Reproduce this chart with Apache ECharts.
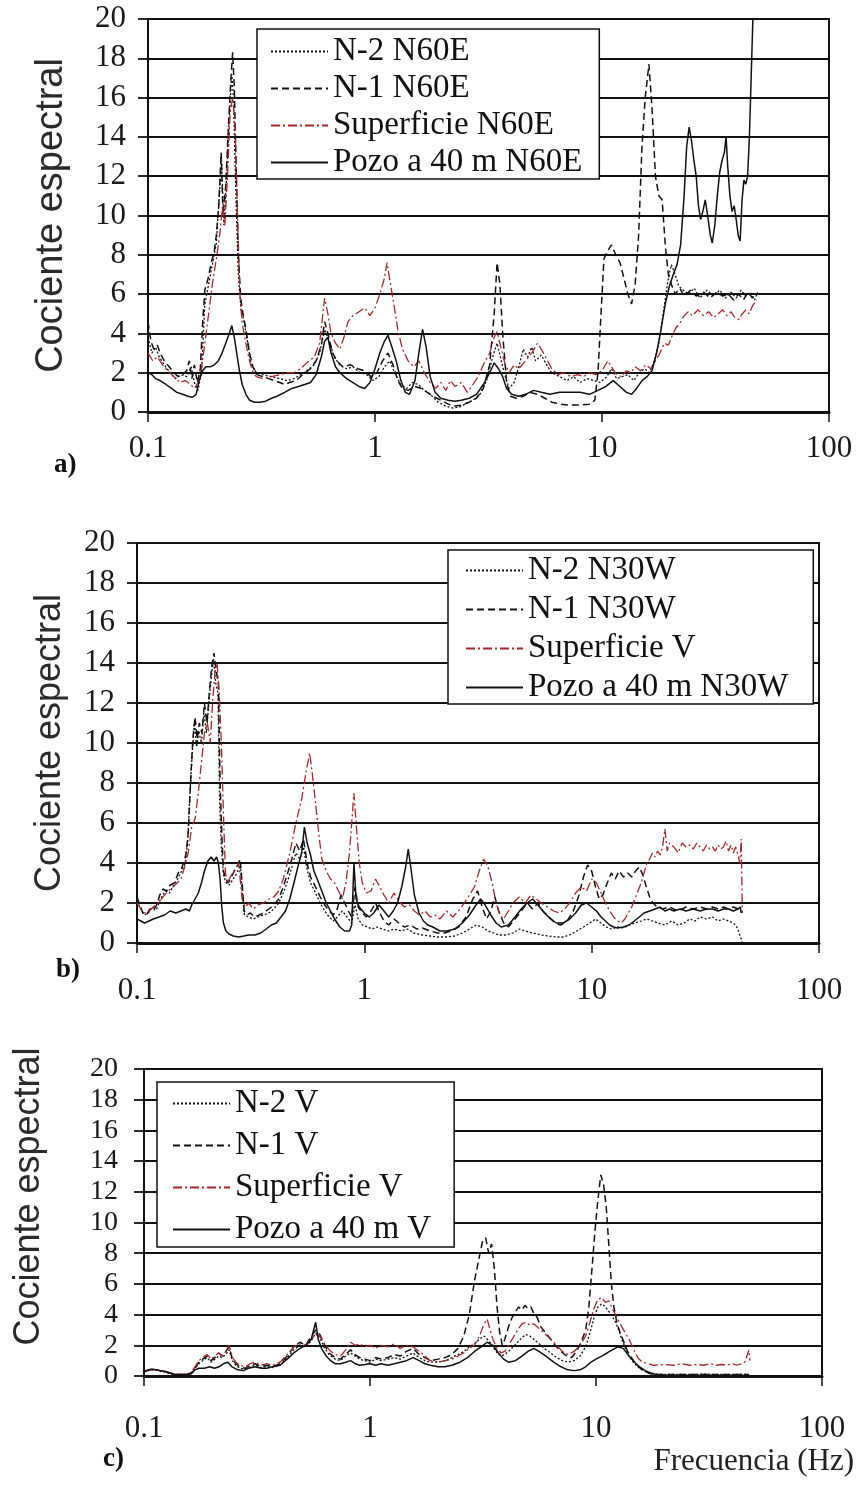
<!DOCTYPE html>
<html>
<head>
<meta charset="utf-8">
<title>Cociente espectral</title>
<script src="https://cdn.jsdelivr.net/npm/echarts@6/dist/echarts.min.js"></script>
<style>
html, body { margin: 0; padding: 0; background: #fff; }
#chart { width: 857px; height: 1487px; }
</style>
</head>
<body>
<div id="chart"></div>
<script>
// ---- data: [frecuencia (Hz), cociente espectral] ----

// a) N60E
var n2N60E = [[0.1,3.8],[0.104,3.0],[0.108,3.3],[0.112,2.8],[0.118,2.4],[0.125,2.0],[0.132,1.7],[0.14,1.9],[0.148,1.8],[0.155,2.3],[0.16,1.5],[0.166,1.1],[0.172,2.0],[0.178,5.5],[0.185,6.5],[0.192,7.5],[0.2,8.6],[0.206,11.0],[0.211,12.8],[0.216,9.5],[0.222,12.0],[0.228,15.0],[0.234,17.2],[0.238,16.0],[0.244,11.0],[0.25,7.0],[0.257,5.2],[0.265,4.6],[0.275,3.5],[0.285,2.4],[0.3,2.0],[0.32,1.9],[0.35,1.8],[0.38,1.7],[0.41,1.6],[0.44,1.7],[0.47,1.9],[0.5,2.1],[0.54,2.4],[0.57,3.0],[0.6,4.2],[0.63,3.6],[0.66,2.8],[0.7,2.4],[0.75,2.2],[0.8,2.3],[0.86,2.0],[0.92,1.9],[0.98,1.6],[1.04,1.8],[1.1,2.3],[1.16,2.6],[1.22,2.0],[1.3,1.4],[1.38,1.2],[1.46,1.5],[1.55,1.4],[1.65,1.1],[1.75,0.9],[1.9,0.5],[2.05,0.3],[2.2,0.2],[2.35,0.25],[2.5,0.4],[2.7,0.6],[2.9,0.9],[3.1,1.6],[3.3,2.8],[3.45,3.5],[3.6,2.6],[3.75,1.8],[3.9,1.2],[4.1,1.5],[4.3,2.3],[4.5,3.2],[4.7,2.8],[4.9,3.3],[5.1,2.6],[5.4,2.9],[5.7,2.4],[6.0,2.0],[6.5,1.8],[7.0,1.6],[7.5,1.8],[8.0,1.5],[8.6,1.7],[9.2,1.6],[9.8,1.5],[10.5,1.8],[11.0,2.2],[11.6,1.7],[12.3,1.8],[13.0,1.9],[13.8,1.6],[14.6,2.0],[15.4,2.2],[16.2,2.0],[17.0,2.6],[17.8,3.5],[18.6,5.0],[19.4,6.5],[20.2,7.5],[21.0,7.0],[21.8,6.4],[22.8,6.2],[24,6.0],[25.5,6.3],[27,5.8],[29,6.2],[31,5.9],[33,6.2],[35,5.8],[37,6.1],[39,5.8],[41,6.2],[43,5.9],[45,6.1],[47,5.7],[48.5,6.1]];
var n1N60E = [[0.1,4.6],[0.103,3.6],[0.106,3.2],[0.11,3.4],[0.113,3.0],[0.118,2.6],[0.124,2.3],[0.13,2.0],[0.136,1.8],[0.142,1.9],[0.148,2.1],[0.152,2.6],[0.156,1.7],[0.16,2.4],[0.165,1.5],[0.17,2.2],[0.174,4.5],[0.178,6.2],[0.184,6.8],[0.19,7.6],[0.196,8.2],[0.2,9.0],[0.205,10.5],[0.21,13.2],[0.214,10.0],[0.22,11.5],[0.226,14.5],[0.232,17.0],[0.236,18.3],[0.24,16.5],[0.245,12.0],[0.25,8.0],[0.256,5.8],[0.262,5.0],[0.27,4.2],[0.28,3.0],[0.29,2.3],[0.302,1.9],[0.32,1.8],[0.34,1.7],[0.36,1.6],[0.38,1.5],[0.4,1.4],[0.42,1.5],[0.45,1.6],[0.48,1.9],[0.52,2.2],[0.55,2.6],[0.58,3.4],[0.6,4.6],[0.62,4.0],[0.65,3.0],[0.68,2.6],[0.72,2.3],[0.78,2.4],[0.84,2.2],[0.9,2.1],[0.96,1.8],[1.02,2.0],[1.08,2.6],[1.14,3.0],[1.2,2.4],[1.26,1.6],[1.32,1.2],[1.4,1.1],[1.5,1.3],[1.6,1.2],[1.7,1.0],[1.8,0.8],[1.95,0.6],[2.1,0.4],[2.25,0.3],[2.4,0.35],[2.6,0.5],[2.8,0.7],[3.0,1.2],[3.2,2.4],[3.35,5.0],[3.45,7.6],[3.55,6.5],[3.65,4.0],[3.8,1.5],[3.95,0.8],[4.2,0.7],[4.5,0.8],[4.8,1.0],[5.2,0.9],[5.6,0.7],[6.0,0.5],[6.6,0.4],[7.2,0.35],[8.0,0.35],[8.8,0.4],[9.3,0.6],[9.6,2.0],[9.9,5.0],[10.2,7.8],[10.6,8.2],[11.0,8.5],[11.5,8.0],[12.0,7.6],[12.5,6.8],[13.0,6.0],[13.5,5.5],[14.0,6.5],[14.5,9.0],[15.0,13.5],[15.5,16.0],[16.1,17.7],[16.6,15.5],[17.2,12.0],[17.8,11.0],[18.4,10.8],[19.0,8.5],[19.6,7.0],[20.2,6.5],[21.0,6.0],[22.0,6.3],[23.0,5.9],[24.5,6.2],[26,5.9],[28,6.1],[30,5.8],[32,6.1],[34,5.9],[36,6.0],[38,5.7],[40,6.0],[42,5.7],[44,6.1],[46,5.8],[48,6.0]];
var supN60E = [[0.1,3.0],[0.105,2.6],[0.11,2.8],[0.116,2.4],[0.122,2.1],[0.13,1.8],[0.138,1.5],[0.146,1.6],[0.154,1.4],[0.16,1.2],[0.166,1.5],[0.172,2.2],[0.178,3.5],[0.185,5.0],[0.192,6.5],[0.2,7.8],[0.207,9.0],[0.213,10.5],[0.218,9.5],[0.224,12.0],[0.23,15.2],[0.236,16.0],[0.242,14.5],[0.248,10.0],[0.254,6.0],[0.26,4.5],[0.27,3.5],[0.28,2.6],[0.29,2.0],[0.3,1.8],[0.32,1.7],[0.35,1.8],[0.38,1.9],[0.41,2.0],[0.44,2.0],[0.47,2.2],[0.5,2.5],[0.54,2.8],[0.57,3.5],[0.6,5.8],[0.62,5.0],[0.64,4.0],[0.67,3.5],[0.7,3.2],[0.73,3.8],[0.76,4.6],[0.8,4.9],[0.85,5.1],[0.9,5.3],[0.95,4.9],[1.0,5.3],[1.05,6.0],[1.1,6.8],[1.13,7.6],[1.17,6.5],[1.21,5.5],[1.26,4.2],[1.32,3.2],[1.4,2.6],[1.48,2.3],[1.56,2.6],[1.65,2.0],[1.75,1.5],[1.85,1.2],[1.95,1.5],[2.05,1.1],[2.15,1.6],[2.25,1.3],[2.4,1.5],[2.55,1.0],[2.7,1.4],[2.85,1.8],[3.0,2.4],[3.2,3.0],[3.35,3.8],[3.45,4.1],[3.6,3.2],[3.75,2.4],[3.9,2.0],[4.1,2.4],[4.3,2.2],[4.6,2.6],[4.9,3.0],[5.2,3.5],[5.4,3.2],[5.7,2.7],[6.0,2.2],[6.4,1.9],[6.8,2.0],[7.3,1.8],[7.8,1.9],[8.3,1.8],[8.8,2.0],[9.4,1.9],[10.0,2.1],[10.6,2.6],[11.0,2.3],[11.6,1.9],[12.2,1.8],[12.8,2.1],[13.4,2.0],[14.0,2.3],[14.8,2.1],[15.6,2.4],[16.4,2.2],[17.2,2.6],[18.0,3.0],[18.8,3.5],[19.6,3.4],[20.4,3.9],[21.2,4.3],[22.0,4.5],[23.0,4.9],[24.0,5.1],[25.0,4.9],[26.5,5.2],[28,4.9],[29.5,5.1],[31,4.8],[32.5,5.0],[34,5.2],[35.5,4.9],[37,5.1],[38.5,4.8],[40,4.7],[41.5,5.0],[43,5.2],[44.5,5.0],[46,5.4],[48,5.7]];
var pozoN60E = [[0.1,2.0],[0.104,1.9],[0.108,1.7],[0.113,1.6],[0.12,1.4],[0.127,1.2],[0.134,1.0],[0.142,0.9],[0.15,0.8],[0.157,0.75],[0.163,0.9],[0.168,1.6],[0.174,2.1],[0.18,2.3],[0.188,2.3],[0.196,2.4],[0.204,2.6],[0.212,3.0],[0.22,3.5],[0.228,4.0],[0.234,4.4],[0.24,3.8],[0.246,3.0],[0.252,2.2],[0.26,1.4],[0.27,0.9],[0.28,0.6],[0.295,0.5],[0.31,0.5],[0.33,0.55],[0.35,0.7],[0.37,0.8],[0.4,1.0],[0.43,1.2],[0.46,1.3],[0.49,1.4],[0.52,1.5],[0.55,1.9],[0.58,2.8],[0.6,3.6],[0.62,3.8],[0.64,3.0],[0.67,2.3],[0.7,2.0],[0.75,1.7],[0.8,1.5],[0.85,1.3],[0.9,1.2],[0.95,1.5],[1.0,2.2],[1.05,3.0],[1.1,3.6],[1.14,3.9],[1.18,3.4],[1.24,2.6],[1.3,1.6],[1.36,1.0],[1.42,0.9],[1.5,1.6],[1.56,3.0],[1.62,4.2],[1.68,3.3],[1.75,1.8],[1.84,1.0],[1.95,0.7],[2.1,0.6],[2.25,0.55],[2.4,0.6],[2.6,0.7],[2.8,0.9],[3.0,1.4],[3.2,2.0],[3.35,2.5],[3.5,2.2],[3.65,1.8],[3.8,1.2],[4.0,0.9],[4.3,0.8],[4.6,0.9],[5.0,1.1],[5.4,1.0],[5.9,0.9],[6.5,1.0],[7.2,1.0],[8.0,1.0],[8.8,0.9],[9.6,1.1],[10.4,1.3],[11.2,1.6],[12.0,1.3],[12.8,1.0],[13.5,0.9],[14.2,1.2],[15.0,1.6],[15.8,1.8],[16.6,2.1],[17.4,3.0],[18.2,4.2],[19.0,5.5],[19.8,6.4],[20.6,7.0],[21.4,7.5],[22.2,8.5],[23.0,11.0],[23.6,13.5],[24.2,14.5],[24.8,13.8],[25.4,12.8],[26.0,12.0],[26.6,10.5],[27.2,9.8],[27.8,10.2],[28.5,10.8],[29.2,10.0],[30.0,9.0],[30.6,8.6],[31.4,9.5],[32.2,11.0],[33.0,12.2],[33.8,12.8],[34.6,13.2],[35.2,14.0],[35.8,12.5],[36.6,11.0],[37.4,10.2],[38.2,10.5],[39.0,9.8],[39.8,9.0],[40.6,8.7],[41.4,10.8],[42.2,11.8],[43.0,11.6],[43.8,12.0],[44.6,14.0],[45.4,17.0],[46.2,20.0],[46.5,21.0]];

// b) N30W
var n2N30W = [[0.1,2.1],[0.104,1.7],[0.108,1.4],[0.112,1.5],[0.117,1.8],[0.122,1.7],[0.127,2.2],[0.133,2.6],[0.139,2.5],[0.145,2.9],[0.151,3.2],[0.157,3.6],[0.163,4.0],[0.167,5.0],[0.171,7.5],[0.175,9.5],[0.179,11.0],[0.183,9.8],[0.187,10.6],[0.192,10.0],[0.197,11.5],[0.202,10.5],[0.207,12.0],[0.212,13.2],[0.217,14.2],[0.222,13.0],[0.227,12.5],[0.231,7.0],[0.235,4.8],[0.24,3.4],[0.247,3.0],[0.255,2.9],[0.265,3.2],[0.275,3.5],[0.285,3.9],[0.29,2.6],[0.297,1.4],[0.31,1.3],[0.325,1.2],[0.34,1.3],[0.36,1.4],[0.38,1.5],[0.4,1.7],[0.42,2.0],[0.44,2.5],[0.46,3.1],[0.48,3.8],[0.5,4.5],[0.52,4.2],[0.54,4.8],[0.56,3.7],[0.58,3.0],[0.61,2.5],[0.64,2.0],[0.67,1.6],[0.7,1.3],[0.73,1.1],[0.76,1.3],[0.8,1.6],[0.84,1.3],[0.88,1.0],[0.91,1.9],[0.94,1.2],[0.98,0.9],[1.03,0.8],[1.08,0.7],[1.14,0.8],[1.2,0.7],[1.27,0.6],[1.35,0.7],[1.45,0.6],[1.55,0.7],[1.65,0.5],[1.8,0.4],[1.95,0.35],[2.1,0.3],[2.3,0.3],[2.5,0.35],[2.7,0.5],[2.9,0.7],[3.1,0.9],[3.3,0.8],[3.5,0.6],[3.7,0.5],[3.9,0.4],[4.2,0.4],[4.5,0.5],[4.8,0.7],[5.1,0.6],[5.5,0.5],[6.0,0.4],[6.5,0.35],[7.0,0.3],[7.5,0.3],[8.0,0.4],[8.6,0.6],[9.2,0.8],[9.8,1.0],[10.4,1.2],[11.0,1.0],[11.6,0.8],[12.2,0.7],[13.0,0.8],[13.8,0.75],[14.6,0.9],[15.5,1.0],[16.5,1.1],[17.5,1.2],[18.5,1.1],[19.5,1.0],[21,0.9],[22.5,1.1],[24,0.9],[25.5,1.0],[27,1.2],[28.5,1.1],[30,1.3],[32,1.2],[34,1.3],[36,1.1],[38,1.2],[40,1.1],[42,1.0],[43.5,0.8],[44.5,0.5],[45.5,0.2],[46,0.0]];
var n1N30W = [[0.1,2.3],[0.103,1.9],[0.106,1.5],[0.11,1.4],[0.114,1.7],[0.118,1.6],[0.122,1.9],[0.126,2.4],[0.13,2.7],[0.135,2.6],[0.14,2.9],[0.146,3.0],[0.152,3.5],[0.158,3.8],[0.164,4.4],[0.168,5.5],[0.172,8.0],[0.176,10.2],[0.18,11.3],[0.184,10.2],[0.188,11.0],[0.193,10.5],[0.198,12.0],[0.203,11.0],[0.208,12.5],[0.213,13.8],[0.218,14.5],[0.223,13.6],[0.228,13.0],[0.232,8.0],[0.236,5.5],[0.24,3.6],[0.246,3.2],[0.252,3.0],[0.26,3.3],[0.268,3.6],[0.276,3.8],[0.284,4.2],[0.29,3.0],[0.296,1.6],[0.305,1.4],[0.315,1.5],[0.33,1.3],[0.345,1.4],[0.36,1.5],[0.38,1.7],[0.4,1.9],[0.42,2.2],[0.44,2.8],[0.46,3.5],[0.48,4.2],[0.5,5.0],[0.52,4.6],[0.54,5.2],[0.56,4.0],[0.58,3.3],[0.61,2.8],[0.64,2.3],[0.67,1.9],[0.7,1.6],[0.73,1.4],[0.76,1.7],[0.79,2.4],[0.82,2.0],[0.85,1.6],[0.88,1.3],[0.91,2.8],[0.94,1.8],[0.98,1.5],[1.02,1.3],[1.07,1.6],[1.12,2.0],[1.17,1.5],[1.22,1.1],[1.28,0.9],[1.35,1.2],[1.42,1.0],[1.5,0.8],[1.6,0.9],[1.7,0.7],[1.8,0.75],[1.95,0.6],[2.1,0.5],[2.25,0.5],[2.4,0.6],[2.6,0.8],[2.8,1.3],[3.0,2.2],[3.15,2.6],[3.3,1.8],[3.45,1.2],[3.6,1.6],[3.75,2.3],[3.9,1.6],[4.1,1.0],[4.3,0.8],[4.6,1.2],[4.9,1.6],[5.2,2.0],[5.5,1.7],[5.8,2.0],[6.1,1.6],[6.5,1.3],[6.9,1.0],[7.3,0.9],[7.8,1.1],[8.3,1.6],[8.8,2.4],[9.2,3.3],[9.6,3.9],[10.0,3.6],[10.4,2.8],[10.8,2.2],[11.2,2.4],[11.7,3.0],[12.2,3.5],[12.7,3.2],[13.2,3.6],[13.8,3.3],[14.4,3.5],[15.0,3.3],[15.6,3.6],[16.2,3.8],[16.8,3.4],[17.4,2.8],[18.0,2.3],[18.6,2.0],[19.4,1.8],[20.5,1.7],[22,1.8],[24,1.6],[26,1.8],[28,1.7],[30,1.8],[32,1.7],[34,1.8],[36,1.7],[38,1.8],[40,1.7],[42,1.8],[44,1.7],[45.5,1.6]];
var supV_b = [[0.1,2.0],[0.104,1.7],[0.108,1.5],[0.113,1.6],[0.118,1.8],[0.124,2.0],[0.13,2.3],[0.137,2.6],[0.144,2.8],[0.15,3.0],[0.156,3.2],[0.162,3.8],[0.168,4.5],[0.174,5.8],[0.18,6.2],[0.186,7.5],[0.192,9.0],[0.198,10.5],[0.204,11.0],[0.21,10.0],[0.215,12.0],[0.22,13.5],[0.225,14.0],[0.23,12.5],[0.235,10.0],[0.24,6.5],[0.245,3.5],[0.25,3.0],[0.26,3.4],[0.27,3.7],[0.28,4.0],[0.29,2.2],[0.3,1.8],[0.31,2.0],[0.325,1.7],[0.34,1.9],[0.36,2.0],[0.38,2.2],[0.4,2.3],[0.42,2.6],[0.44,3.2],[0.47,4.5],[0.5,6.0],[0.53,7.2],[0.555,8.6],[0.575,9.5],[0.59,8.5],[0.61,7.0],[0.63,5.5],[0.65,4.2],[0.68,3.6],[0.71,3.2],[0.74,3.0],[0.77,2.6],[0.8,2.2],[0.83,3.0],[0.86,4.5],[0.88,6.0],[0.9,7.5],[0.92,6.0],[0.95,4.0],[0.98,3.0],[1.02,2.5],[1.07,2.6],[1.12,3.2],[1.17,2.8],[1.22,2.4],[1.28,2.0],[1.35,2.5],[1.42,2.1],[1.5,1.8],[1.58,1.9],[1.66,1.6],[1.75,1.4],[1.85,1.6],[1.95,1.3],[2.05,1.4],[2.15,1.2],[2.3,1.6],[2.45,1.3],[2.6,1.6],[2.75,2.0],[2.9,2.4],[3.05,2.8],[3.2,3.6],[3.35,4.2],[3.5,3.8],[3.65,3.0],[3.8,2.0],[3.95,1.4],[4.1,1.2],[4.3,1.6],[4.5,2.0],[4.8,2.3],[5.1,2.0],[5.4,2.4],[5.7,2.2],[6.0,2.0],[6.4,1.8],[6.8,1.6],[7.2,1.5],[7.6,1.7],[8.0,2.0],[8.5,2.5],[9.0,2.8],[9.5,2.6],[10.0,3.2],[10.5,3.0],[11.0,2.5],[11.5,2.0],[12.0,1.6],[12.5,1.3],[13.0,1.1],[13.5,1.0],[14.0,1.2],[14.5,1.5],[15.0,1.8],[15.5,2.2],[16.0,2.6],[16.5,3.0],[17.0,3.5],[17.5,4.0],[18.0,4.2],[18.5,4.5],[19.0,4.3],[19.5,4.6],[20.0,4.4],[20.5,4.8],[21.0,5.7],[21.5,4.6],[22.0,5.0],[23.0,4.8],[24.0,4.5],[25.0,5.0],[26.0,4.8],[27.0,4.9],[28.0,4.7],[29.0,5.0],[30.0,4.8],[31.0,4.6],[32.0,4.9],[33.0,4.7],[34.0,4.8],[35.0,4.6],[36.0,4.9],[37.0,4.7],[38.0,4.8],[39.0,5.1],[40.0,4.6],[41,4.9],[42,4.5],[43,4.8],[44,4.4],[44.8,4.0],[45.5,5.2],[46,1.5]];
var pozoN30W = [[0.1,1.2],[0.104,1.1],[0.108,1.0],[0.113,1.1],[0.118,1.2],[0.125,1.3],[0.132,1.4],[0.14,1.6],[0.148,1.5],[0.156,1.6],[0.164,1.7],[0.17,1.6],[0.174,1.9],[0.18,2.2],[0.186,2.5],[0.192,3.0],[0.198,3.6],[0.205,4.1],[0.212,4.3],[0.218,4.1],[0.224,4.3],[0.228,4.0],[0.232,3.2],[0.236,1.8],[0.24,1.0],[0.246,0.6],[0.254,0.45],[0.265,0.35],[0.28,0.3],[0.295,0.35],[0.31,0.4],[0.33,0.4],[0.35,0.5],[0.37,0.7],[0.39,0.9],[0.41,1.0],[0.43,1.3],[0.45,1.6],[0.47,2.2],[0.49,3.0],[0.51,3.8],[0.53,4.5],[0.545,5.8],[0.56,5.0],[0.58,4.4],[0.6,3.6],[0.62,3.2],[0.65,2.6],[0.68,2.0],[0.71,1.6],[0.74,1.2],[0.78,0.8],[0.82,0.6],[0.86,0.6],[0.88,0.9],[0.9,4.0],[0.92,2.2],[0.95,1.8],[1.0,1.5],[1.05,1.3],[1.1,1.5],[1.16,1.9],[1.22,1.6],[1.28,1.3],[1.34,1.6],[1.4,2.0],[1.46,2.8],[1.52,3.8],[1.56,4.7],[1.6,3.8],[1.66,2.4],[1.74,1.5],[1.82,1.1],[1.9,0.9],[2.0,0.8],[2.15,0.6],[2.3,0.6],[2.5,0.7],[2.7,1.0],[2.9,1.4],[3.1,1.9],[3.25,2.2],[3.4,1.9],[3.6,1.4],[3.8,1.0],[4.0,0.8],[4.3,0.9],[4.6,1.3],[4.9,1.7],[5.2,2.0],[5.5,2.2],[5.8,1.9],[6.2,1.5],[6.6,1.2],[7.0,1.0],[7.5,1.0],[8.0,1.2],[8.5,1.5],[9.0,1.9],[9.5,2.0],[10.0,1.8],[10.5,1.6],[11.0,1.3],[11.5,1.1],[12.0,0.9],[12.5,0.8],[13.0,0.75],[13.8,0.8],[14.6,0.9],[15.4,1.1],[16.2,1.3],[17.0,1.5],[18.0,1.6],[19.0,1.7],[20,1.8],[21,1.6],[22,1.7],[23,1.6],[24.5,1.7],[26,1.6],[28,1.7],[30,1.6],[32,1.7],[34,1.7],[36,1.6],[38,1.7],[40,1.7],[42,1.6],[44,1.7],[45,1.8],[45.5,1.5]];

// c) V
var n2V = [[0.1,0.25],[0.104,0.35],[0.108,0.4],[0.113,0.38],[0.118,0.3],[0.124,0.25],[0.13,0.15],[0.138,0.08],[0.146,0.08],[0.155,0.1],[0.162,0.2],[0.168,0.5],[0.175,0.8],[0.182,1.0],[0.19,1.2],[0.198,0.9],[0.206,1.1],[0.214,1.3],[0.222,1.2],[0.23,1.4],[0.238,1.7],[0.246,1.0],[0.255,0.7],[0.265,0.5],[0.28,0.45],[0.295,0.6],[0.31,0.7],[0.33,0.55],[0.35,0.6],[0.37,0.55],[0.4,0.7],[0.43,1.2],[0.46,1.7],[0.49,2.0],[0.52,1.9],[0.55,2.3],[0.575,2.8],[0.6,2.5],[0.63,1.8],[0.66,1.4],[0.7,1.1],[0.74,1.0],[0.78,1.3],[0.82,1.5],[0.86,1.3],[0.9,1.1],[0.95,1.0],[1.0,0.9],[1.06,1.1],[1.12,1.0],[1.2,1.1],[1.28,1.2],[1.36,1.1],[1.45,1.3],[1.55,1.5],[1.65,1.2],[1.75,1.0],[1.85,0.9],[2.0,0.9],[2.15,1.0],[2.3,1.2],[2.45,1.4],[2.6,1.6],[2.75,1.9],[2.9,2.1],[3.05,2.4],[3.2,2.6],[3.35,2.3],[3.5,1.9],[3.65,1.5],[3.8,1.3],[3.95,1.4],[4.1,1.6],[4.3,1.9],[4.5,2.2],[4.7,2.5],[4.9,2.7],[5.1,2.6],[5.3,2.4],[5.6,2.1],[5.9,1.8],[6.3,1.5],[6.7,1.2],[7.1,1.0],[7.5,0.9],[8.0,1.0],[8.5,1.3],[9.0,1.9],[9.4,2.8],[9.8,3.8],[10.2,4.5],[10.6,4.7],[11.0,4.5],[11.4,4.2],[11.8,3.9],[12.2,3.5],[12.6,3.0],[13.0,2.4],[13.5,1.8],[14.0,1.3],[14.6,0.9],[15.3,0.6],[16.0,0.4],[17.0,0.2],[18.0,0.15],[20,0.1],[25,0.1],[30,0.12],[35,0.1],[40,0.1],[45,0.12],[47.5,0.1]];
var n1V = [[0.1,0.3],[0.104,0.4],[0.108,0.45],[0.113,0.4],[0.118,0.35],[0.124,0.3],[0.13,0.2],[0.138,0.1],[0.146,0.1],[0.155,0.1],[0.162,0.2],[0.168,0.5],[0.175,0.9],[0.182,1.1],[0.19,1.3],[0.198,1.0],[0.206,1.2],[0.214,1.5],[0.222,1.3],[0.23,1.6],[0.238,1.9],[0.246,1.1],[0.255,0.8],[0.265,0.6],[0.28,0.5],[0.295,0.7],[0.31,0.8],[0.33,0.6],[0.35,0.7],[0.37,0.6],[0.4,0.8],[0.43,1.3],[0.46,1.9],[0.49,2.2],[0.52,2.0],[0.55,2.6],[0.575,3.0],[0.6,2.7],[0.63,2.0],[0.66,1.5],[0.7,1.2],[0.74,1.1],[0.78,1.4],[0.82,1.7],[0.86,1.4],[0.9,1.2],[0.95,1.1],[1.0,1.0],[1.06,1.2],[1.12,1.1],[1.2,1.2],[1.28,1.4],[1.36,1.3],[1.45,1.6],[1.55,1.8],[1.65,1.4],[1.75,1.2],[1.85,1.0],[2.0,1.1],[2.15,1.2],[2.3,1.4],[2.45,1.8],[2.6,2.6],[2.75,4.0],[2.9,6.2],[3.05,7.8],[3.15,8.8],[3.25,9.0],[3.35,8.0],[3.45,8.6],[3.55,7.0],[3.65,4.5],[3.75,2.8],[3.85,2.0],[3.95,2.4],[4.1,3.2],[4.25,3.8],[4.4,4.2],[4.55,4.5],[4.7,4.3],[4.85,4.6],[5.0,4.4],[5.15,4.5],[5.3,4.1],[5.5,3.8],[5.7,3.2],[6.0,2.8],[6.3,2.4],[6.6,2.0],[7.0,1.6],[7.4,1.3],[7.8,1.2],[8.2,1.6],[8.6,2.2],[9.0,3.0],[9.3,4.5],[9.6,7.0],[9.9,9.5],[10.2,11.5],[10.5,13.1],[10.8,12.5],[11.1,11.0],[11.4,8.5],[11.7,6.0],[12.0,4.5],[12.4,3.4],[12.8,2.8],[13.3,2.2],[13.8,1.6],[14.5,1.1],[15.2,0.7],[16.0,0.4],[17.0,0.2],[18.0,0.1],[20,0.1],[25,0.1],[30,0.1],[35,0.1],[40,0.1],[45,0.1],[47.5,0.1]];
var supV_c = [[0.1,0.3],[0.104,0.35],[0.108,0.4],[0.113,0.4],[0.118,0.35],[0.124,0.3],[0.13,0.2],[0.138,0.1],[0.146,0.1],[0.155,0.12],[0.162,0.25],[0.168,0.6],[0.175,1.0],[0.182,1.2],[0.19,1.4],[0.198,1.1],[0.206,1.3],[0.214,1.5],[0.222,1.3],[0.23,1.6],[0.238,2.0],[0.246,1.2],[0.255,0.9],[0.265,0.7],[0.28,0.6],[0.295,0.8],[0.31,0.9],[0.33,0.7],[0.35,0.8],[0.37,0.7],[0.4,0.9],[0.43,1.4],[0.46,1.9],[0.49,2.1],[0.52,2.0],[0.55,2.4],[0.575,2.7],[0.6,2.6],[0.63,2.1],[0.66,1.7],[0.7,1.4],[0.74,1.3],[0.78,1.7],[0.82,2.2],[0.86,2.0],[0.9,2.1],[0.95,1.9],[1.0,2.0],[1.06,1.8],[1.12,2.0],[1.2,1.9],[1.28,2.1],[1.36,1.8],[1.45,2.0],[1.55,1.9],[1.65,1.6],[1.75,1.3],[1.85,1.0],[2.0,0.9],[2.15,1.0],[2.3,1.1],[2.45,1.3],[2.6,1.5],[2.75,1.8],[2.9,2.0],[3.05,2.6],[3.2,3.4],[3.3,3.7],[3.4,3.0],[3.5,2.4],[3.65,1.8],[3.8,1.5],[3.95,1.6],[4.1,2.0],[4.3,2.5],[4.5,3.0],[4.7,3.4],[4.9,3.5],[5.1,3.3],[5.3,3.4],[5.6,3.1],[5.9,2.8],[6.3,2.4],[6.7,2.0],[7.1,1.6],[7.5,1.4],[8.0,1.6],[8.5,2.0],[9.0,2.6],[9.4,3.5],[9.8,4.4],[10.2,5.0],[10.6,5.1],[11.0,4.8],[11.4,4.9],[11.8,4.4],[12.2,4.0],[12.6,3.6],[13.0,3.2],[13.5,2.8],[14.0,2.4],[14.6,1.8],[15.3,1.2],[16.0,0.9],[17.0,0.8],[18.0,0.7],[20,0.75],[22,0.7],[24,0.8],[26,0.7],[28,0.75],[30,0.7],[32,0.8],[34,0.7],[36,0.75],[38,0.7],[40,0.8],[42,0.7],[44,0.8],[45.5,0.9],[46.5,1.3],[47.5,1.7],[48,1.0]];
var pozoV = [[0.1,0.3],[0.104,0.35],[0.108,0.45],[0.113,0.4],[0.118,0.35],[0.124,0.3],[0.13,0.2],[0.138,0.1],[0.146,0.1],[0.155,0.1],[0.162,0.15],[0.168,0.4],[0.175,0.5],[0.185,0.5],[0.195,0.6],[0.205,0.5],[0.215,0.6],[0.225,0.8],[0.235,0.9],[0.245,0.6],[0.26,0.4],[0.275,0.35],[0.29,0.5],[0.31,0.6],[0.33,0.5],[0.35,0.5],[0.37,0.6],[0.4,0.7],[0.43,1.1],[0.46,1.5],[0.49,1.8],[0.52,2.0],[0.55,2.4],[0.575,3.5],[0.59,2.4],[0.61,1.8],[0.64,1.3],[0.67,1.0],[0.7,0.8],[0.74,0.8],[0.78,0.9],[0.82,1.0],[0.86,0.8],[0.9,0.7],[0.95,0.75],[1.0,0.8],[1.06,0.7],[1.12,0.8],[1.2,0.7],[1.28,0.8],[1.36,0.9],[1.45,1.0],[1.55,1.2],[1.65,1.0],[1.75,0.8],[1.85,0.7],[2.0,0.6],[2.15,0.6],[2.3,0.7],[2.5,0.9],[2.7,1.2],[2.9,1.6],[3.1,1.9],[3.3,2.2],[3.5,2.0],[3.7,1.5],[3.9,1.1],[4.1,0.9],[4.4,1.0],[4.7,1.3],[5.0,1.6],[5.3,1.8],[5.6,1.6],[6.0,1.3],[6.5,0.9],[7.0,0.6],[7.5,0.4],[8.0,0.35],[8.5,0.4],[9.0,0.6],[9.5,0.9],[10.0,1.1],[10.6,1.3],[11.2,1.5],[11.8,1.7],[12.5,1.9],[13.2,1.8],[14.0,1.3],[14.8,0.9],[15.6,0.6],[16.5,0.35],[17.5,0.2],[18.5,0.1],[20,0.05],[25,0.05],[30,0.05],[35,0.05],[40,0.05],[45,0.05],[47.5,0.05]];

var seriesNames = [
	['N-2 N60E', 'N-1 N60E', 'Superficie N60E', 'Pozo a 40 m N60E'],
	['N-2 N30W', 'N-1 N30W', 'Superficie V', 'Pozo a 40 m N30W'],
	['N-2 V', 'N-1 V', 'Superficie V', 'Pozo a 40 m V']
];
var seriesData = [
	[n2N60E, n1N60E, supN60E, pozoN60E],
	[n2N30W, n1N30W, supV_b, pozoN30W],
	[n2V, n1V, supV_c, pozoV]
];
var panelTags = ['a)', 'b)', 'c)'];
var yTitle = 'Cociente espectral';
var xTitle = 'Frecuencia (Hz)';

// ---- layout (pixels) ----
var panels = [
	{ left: 148, right: 28, top: 19, height: 393, nameGap: 77, nameSize: 38, namePad: [0, 0, 0, 0], xMargin: 21, yMargin: 22, ySize: 31,
	  legend: { left: 257, top: 29, padding: [6, 17, 0, 13], itemGap: 4 }, tag: [54, 452] },
	{ left: 137, right: 38, top: 543, height: 400, nameGap: 69, nameSize: 36, namePad: [0, 0, 0, 0], xMargin: 32, yMargin: 22, ySize: 31,
	  legend: { left: 448, top: 550, padding: [4, 25, 0, 17], itemGap: 6 }, tag: [56, 957] },
	{ left: 144, right: 35, top: 1069, height: 307, nameGap: 97, nameSize: 36, namePad: [0, 0, 0, 52], xMargin: 37, yMargin: 26, ySize: 28,
	  legend: { left: 157, top: 1082, padding: [5, 23, 1, 15], itemGap: 9 }, tag: [103, 1446] }
];

var lineStyles = [
	{ color: '#111', type: [2, 2], width: 1.3 },
	{ color: '#111', type: [7, 4], width: 1.5 },
	{ color: '#a8262a', type: [9, 3, 2, 3], width: 1.3 },
	{ color: '#111', type: 'solid', width: 1.5 }
];

var serif = '"Liberation Serif", "DejaVu Serif", serif';
var sans = '"Liberation Sans", Arial, sans-serif';

var myChart = echarts.init(document.getElementById('chart'), null, { renderer: 'canvas' }),
	option,
	grids = [], xAxes = [], yAxes = [], legends = [], series = [], graphics = [],
	p, k, cfg;

for (p = 0; p < panels.length; p++)
{
	cfg = panels[p];

	grids.push({
		left: cfg.left,
		right: cfg.right,
		top: cfg.top,
		height: cfg.height,
		show: true,
		borderColor: '#111',
		borderWidth: 2,
		backgroundColor: 'transparent'
	});

	xAxes.push({
		type: 'log',
		logBase: 10,
		gridIndex: p,
		min: 0.1,
		max: 100,
		axisLine: { show: true, lineStyle: { color: '#111', width: 3 } },
		axisTick: { show: true, length: 10, lineStyle: { color: '#111', width: 1.5 } },
		axisLabel: {
			margin: cfg.xMargin,
			fontFamily: serif,
			fontSize: 31,
			color: '#1a1a1a',
			showMinLabel: true,
			showMaxLabel: true,
			formatter: function (v) { return String(+v.toPrecision(3)); }
		},
		splitLine: { show: false },
		minorTick: { show: false }
	});

	yAxes.push({
		type: 'value',
		gridIndex: p,
		min: 0,
		max: 20,
		interval: 2,
		name: yTitle,
		nameLocation: 'middle',
		nameRotate: 90,
		nameGap: cfg.nameGap,
		nameMoveOverlap: false,
		nameTextStyle: { fontFamily: sans, fontSize: cfg.nameSize, color: '#2a2a2a', padding: cfg.namePad },
		axisLine: { show: true, lineStyle: { color: '#111', width: 2 } },
		axisTick: { show: true, length: 10, lineStyle: { color: '#111', width: 1.8 } },
		axisLabel: {
			margin: cfg.yMargin,
			fontFamily: serif,
			fontSize: cfg.ySize,
			color: '#1a1a1a',
			showMinLabel: true,
			showMaxLabel: true,
			hideOverlap: false
		},
		splitLine: { show: true, lineStyle: { color: '#111', width: 1.8 } }
	});

	legends.push({
		orient: 'vertical',
		left: cfg.legend.left,
		top: cfg.legend.top,
		padding: cfg.legend.padding,
		itemGap: cfg.legend.itemGap,
		itemWidth: 57,
		itemHeight: 14,
		data: seriesNames[p],
		selectedMode: false,
		backgroundColor: '#fff',
		borderColor: '#111',
		borderWidth: 1.5,
		borderRadius: 0,
		itemStyle: { opacity: 0 },
		textStyle: { fontFamily: serif, fontSize: 33, lineHeight: 33, color: '#111' }
	});

	for (k = 0; k < 4; k++)
	{
		series.push({
			type: 'line',
			name: seriesNames[p][k],
			xAxisIndex: p,
			yAxisIndex: p,
			data: seriesData[p][k],
			symbol: 'none',
			clip: true,
			silent: true,
			lineStyle: lineStyles[k],
			itemStyle: { color: lineStyles[k].color },
			z: 2 + k
		});
	}

	graphics.push({
		type: 'text',
		left: cfg.tag[0],
		top: cfg.tag[1],
		style: { text: panelTags[p], font: 'bold 27px ' + serif, fill: '#111' }
	});
}

graphics.push({
	type: 'text',
	right: 3,
	top: 1446,
	style: { text: xTitle, font: '31px ' + serif, fill: '#222' }
});

option = {
	backgroundColor: '#fff',
	animation: false,
	grid: grids,
	xAxis: xAxes,
	yAxis: yAxes,
	legend: legends,
	series: series,
	graphic: graphics
};

myChart.setOption(option);
</script>
</body>
</html>
